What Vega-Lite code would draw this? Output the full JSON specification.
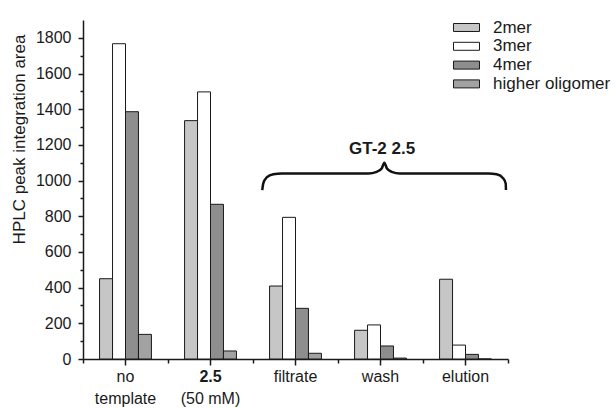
{
  "$schema": "https://vega.github.io/schema/vega-lite/v6.json",
  "width": 425,
  "height": 339,
  "autosize": {"type": "none"},
  "padding": {"left": 83, "top": 20, "right": 107, "bottom": 49},
  "background": "white",
  "config": {
    "font": "Liberation Sans",
    "view": {"stroke": null},
    "axis": {"labelColor": "#1a1a1a", "titleColor": "#1a1a1a", "domainColor": "#1a1a1a", "tickColor": "#1a1a1a", "labelFont": "Liberation Sans", "titleFont": "Liberation Sans", "grid": false},
    "legend": {"labelFont": "Liberation Sans"}
  },
  "datasets": {
    "bars": [
      {"group": "no template", "series": "2mer", "value": 450},
      {"group": "no template", "series": "3mer", "value": 1767},
      {"group": "no template", "series": "4mer", "value": 1386},
      {"group": "no template", "series": "higher oligomer", "value": 138},
      {"group": "2.5 (50 mM)", "series": "2mer", "value": 1336},
      {"group": "2.5 (50 mM)", "series": "3mer", "value": 1497},
      {"group": "2.5 (50 mM)", "series": "4mer", "value": 867},
      {"group": "2.5 (50 mM)", "series": "higher oligomer", "value": 45},
      {"group": "filtrate", "series": "2mer", "value": 409},
      {"group": "filtrate", "series": "3mer", "value": 794},
      {"group": "filtrate", "series": "4mer", "value": 284},
      {"group": "filtrate", "series": "higher oligomer", "value": 32},
      {"group": "wash", "series": "2mer", "value": 161},
      {"group": "wash", "series": "3mer", "value": 191},
      {"group": "wash", "series": "4mer", "value": 73},
      {"group": "wash", "series": "higher oligomer", "value": 5},
      {"group": "elution", "series": "2mer", "value": 447},
      {"group": "elution", "series": "3mer", "value": 78},
      {"group": "elution", "series": "4mer", "value": 26},
      {"group": "elution", "series": "higher oligomer", "value": 0}
    ],
    "brace": [
      {"ord": 1, "bx": 2.609, "by": 947},
      {"ord": 2, "bx": 2.621, "by": 984},
      {"ord": 3, "bx": 2.661, "by": 1018},
      {"ord": 4, "bx": 2.739, "by": 1036},
      {"ord": 5, "bx": 2.838, "by": 1040},
      {"ord": 6, "bx": 3.856, "by": 1040},
      {"ord": 7, "bx": 3.955, "by": 1049},
      {"ord": 8, "bx": 4.014, "by": 1068},
      {"ord": 9, "bx": 4.045, "by": 1100},
      {"ord": 10, "bx": 4.076, "by": 1068},
      {"ord": 11, "bx": 4.132, "by": 1049},
      {"ord": 12, "bx": 4.229, "by": 1040},
      {"ord": 13, "bx": 5.268, "by": 1040},
      {"ord": 14, "bx": 5.367, "by": 1035},
      {"ord": 15, "bx": 5.445, "by": 1012},
      {"ord": 16, "bx": 5.473, "by": 984},
      {"ord": 17, "bx": 5.476, "by": 947}
    ]
  },
  "layer": [
    {
      "data": {"name": "bars"},
      "mark": {"type": "bar", "stroke": "#1a1a1a", "strokeWidth": 1},
      "encoding": {
        "x": {
          "field": "group", "type": "nominal",
          "sort": ["no template", "2.5 (50 mM)", "filtrate", "wash", "elution"],
          "scale": {"type": "band", "paddingInner": 0.39, "paddingOuter": 0.195},
          "axis": {
            "title": null, "labelAngle": 0, "labelFontSize": 16, "labelPadding": 3,
            "labelExpr": "datum.value === 'no template' ? 'no' : datum.value === '2.5 (50 mM)' ? '2.5' : datum.label",
            "labelFontWeight": {"condition": {"test": "datum.value === '2.5 (50 mM)'", "value": "bold"}, "value": "normal"},
            "tickSize": 6, "domainWidth": 1.5, "tickWidth": 1.5
          }
        },
        "xOffset": {
          "field": "series", "type": "nominal",
          "sort": ["2mer", "3mer", "4mer", "higher oligomer"],
          "scale": {"paddingInner": 0, "paddingOuter": 0}
        },
        "y": {
          "field": "value", "type": "quantitative",
          "scale": {"domain": [0, 1900], "nice": false},
          "axis": {
            "title": "HPLC peak integration area", "titleFontSize": 17, "titleFontWeight": "normal",
            "titleY": 119, "titlePadding": 7, "orient": "left",
            "values": [0, 100, 200, 300, 400, 500, 600, 700, 800, 900, 1000, 1100, 1200, 1300, 1400, 1500, 1600, 1700, 1800],
            "format": "d",
            "labelExpr": "datum.value % 200 === 0 ? datum.label : ''",
            "tickSize": {"condition": {"test": "datum.value % 200 === 0", "value": 5}, "value": 3},
            "labelFontSize": 16, "labelPadding": 7, "labelOverlap": false,
            "domainWidth": 1.5, "tickWidth": 1.5
          }
        },
        "fill": {
          "field": "series", "type": "nominal",
          "scale": {"domain": ["2mer", "3mer", "4mer", "higher oligomer"], "range": ["#c6c6c6", "#ffffff", "#8e8e8e", "#a2a2a2"]},
          "legend": {
            "title": null, "orient": "none", "legendX": 374.5, "legendY": -1.5,
            "symbolType": "M-1.53,-0.47H1.53V0.47H-1.53Z", "symbolSize": 289,
            "symbolStrokeColor": "#1a1a1a", "symbolStrokeWidth": 1, "symbolOpacity": 1,
            "labelFontSize": 17, "labelOffset": 17.5, "rowPadding": 1.8, "padding": 0,
            "labelColor": "#1a1a1a"
          }
        }
      }
    },
    {
      "data": {"name": "bars"},
      "mark": {"type": "point", "opacity": 0},
      "encoding": {
        "x": {
          "field": "group", "type": "nominal",
          "sort": ["no template", "2.5 (50 mM)", "filtrate", "wash", "elution"],
          "scale": {"type": "band", "paddingInner": 0.39, "paddingOuter": 0.195},
          "axis": {
            "title": null, "orient": "bottom", "labelAngle": 0, "domain": false, "ticks": false, "tickSize": 0,
            "labelPadding": 31, "labelFontSize": 16, "labelOverlap": false,
            "labelExpr": "datum.value === 'no template' ? 'template' : datum.value === '2.5 (50 mM)' ? '(50 mM)' : ''"
          }
        },
        "y": {"field": "value", "type": "quantitative", "axis": null}
      }
    },
    {
      "layer": [
        {
          "data": {"name": "brace"},
          "mark": {"type": "line", "interpolate": "monotone", "stroke": "#111111", "strokeWidth": 2.5},
          "encoding": {
            "x": {
              "field": "bx", "type": "quantitative",
              "scale": {"domain": [0.5, 5.5], "nice": false, "zero": false},
              "axis": {"orient": "bottom", "values": [0.5, 1.5, 2.5, 3.5, 4.5, 5.5], "labels": false, "domain": false, "tickSize": 4, "tickWidth": 1.5, "title": null, "grid": false}
            },
            "y": {"field": "by", "type": "quantitative", "axis": null},
            "order": {"field": "ord"}
          }
        },
        {
          "data": {"values": [{"tx": 4.018, "ty": 1177, "label": "GT-2 2.5"}]},
          "mark": {"type": "text", "fontSize": 17, "fontWeight": "bold", "baseline": "middle", "align": "center", "color": "#1a1a1a"},
          "encoding": {
            "x": {"field": "tx", "type": "quantitative"},
            "y": {"field": "ty", "type": "quantitative", "axis": null},
            "text": {"field": "label"}
          }
        }
      ]
    }
  ],
  "resolve": {"scale": {"x": "independent"}, "axis": {"x": "independent", "y": "independent"}}
}
